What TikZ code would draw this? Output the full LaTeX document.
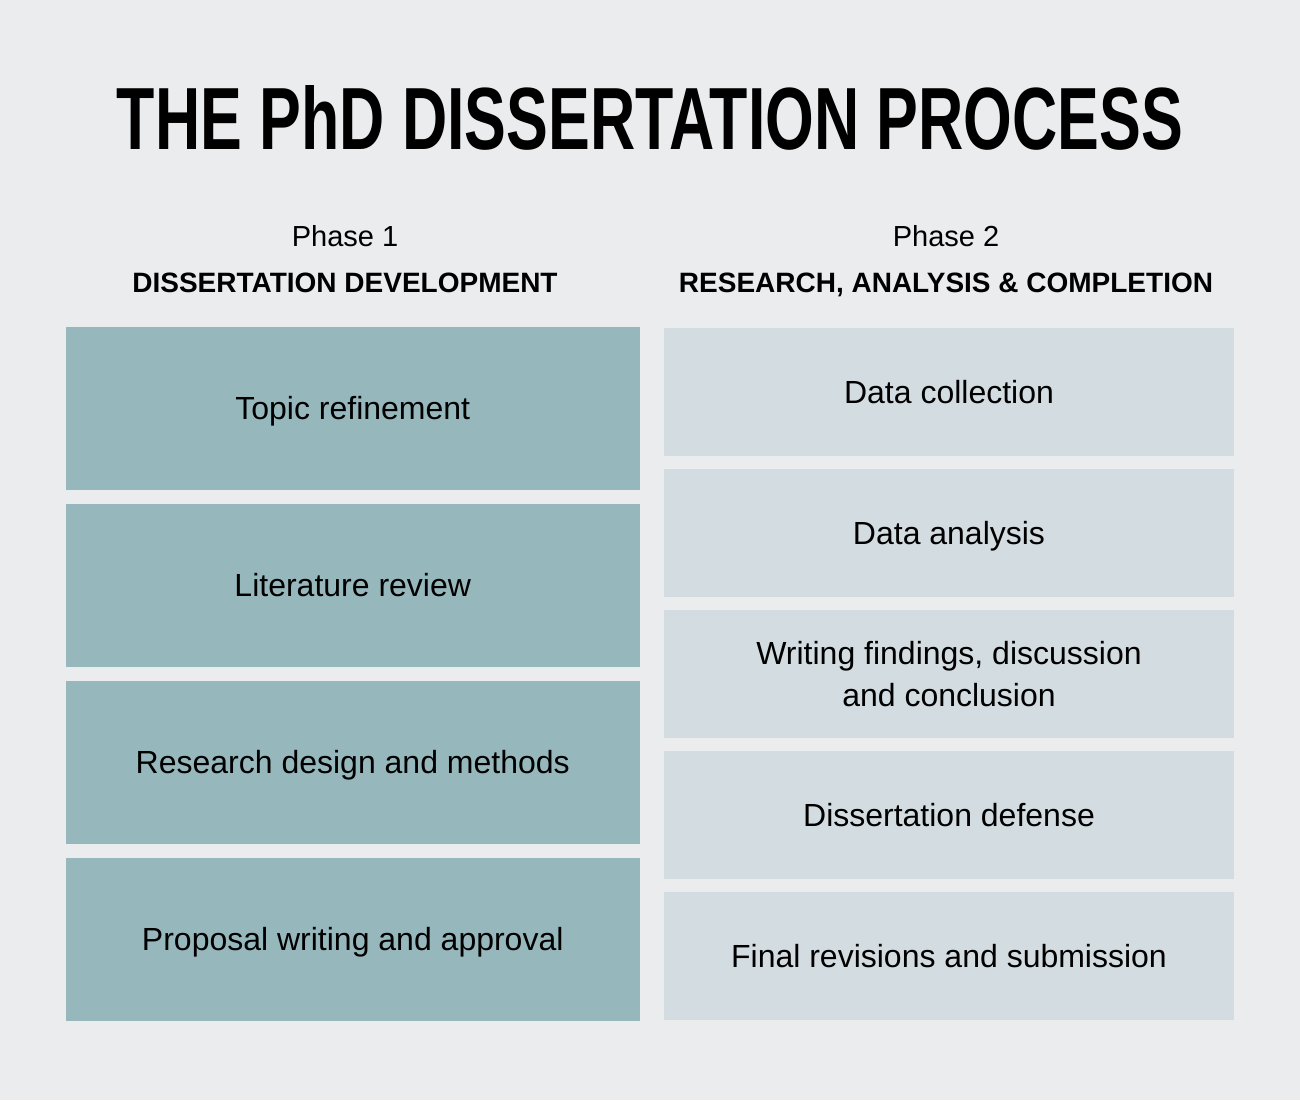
\documentclass[tikz,border=0pt]{standalone}
\usepackage{fontspec}
\setmainfont{Liberation Sans}
\usepackage{graphicx}

\definecolor{pagebg}{RGB}{235,236,238}
\definecolor{phaseone}{RGB}{150,184,188}
\definecolor{phasetwo}{RGB}{211,220,224}

\tikzset{every picture/.style={line width=0.75pt}}
\tikzset{
  stepbox/.style={inner sep=0pt, outer sep=0pt, align=center, font=\fontsize{16}{21}\selectfont},
  capline/.style={text height=11.2pt, text depth=0pt},
  stepone/.style={stepbox, capline, fill=phaseone, minimum width=286.75pt, minimum height=81.75pt},
  steptwo/.style={stepbox, fill=phasetwo, minimum width=285pt, minimum height=64pt},
  phaselabel/.style={anchor=base, inner sep=0pt, font=\fontsize{14.5}{17}\selectfont},
  phasehead/.style={anchor=base, inner sep=0pt, font=\fontsize{14}{17}\selectfont\bfseries}
}

\begin{document}
\begin{tikzpicture}[x=0.5pt,y=0.5pt,yscale=-1,xscale=1]
%set diagram left start at 0, and has height of 1100
\fill[pagebg] (0,0) rectangle (1300,1100);
\useasboundingbox (0,0) rectangle (1300,1100);

% Title Node
\node [anchor=base, inner sep=0pt] (title) at (650,149) {\resizebox{533pt}{32pt}{\bfseries THE PhD DISSERTATION PROCESS}};

% Text Node
\node [phaselabel] (phase1) at (345,246.5) {Phase 1};
% Text Node
\node [phasehead] (head1) at (345,292) {DISSERTATION DEVELOPMENT};
% Text Node
\node [phaselabel] (phase2) at (946,246.5) {Phase 2};
% Text Node
\node [phasehead] (head2) at (946,292) {RESEARCH, ANALYSIS \& COMPLETION};

%Shape: Rectangle [phase 1]
\node [stepone] (topic) at (352.75,408.5) {Topic refinement};
\node [stepone] (litreview) at (352.75,585.5) {Literature review};
\node [stepone] (design) at (352.75,762.5) {Research design and methods};
\node [stepone] (proposal) at (352.75,939.5) {Proposal writing and approval};

%Shape: Rectangle [phase 2]
\node [steptwo, capline] (collect) at (949,392) {Data collection};
\node [steptwo, capline] (analysis) at (949,533) {Data analysis};
\node [steptwo] (writing) at (949,674) {Writing findings, discussion\\and conclusion};
\node [steptwo, capline] (defense) at (949,815) {Dissertation defense};
\node [steptwo, capline] (final) at (949,956) {Final revisions and submission};

\end{tikzpicture}
\end{document}
